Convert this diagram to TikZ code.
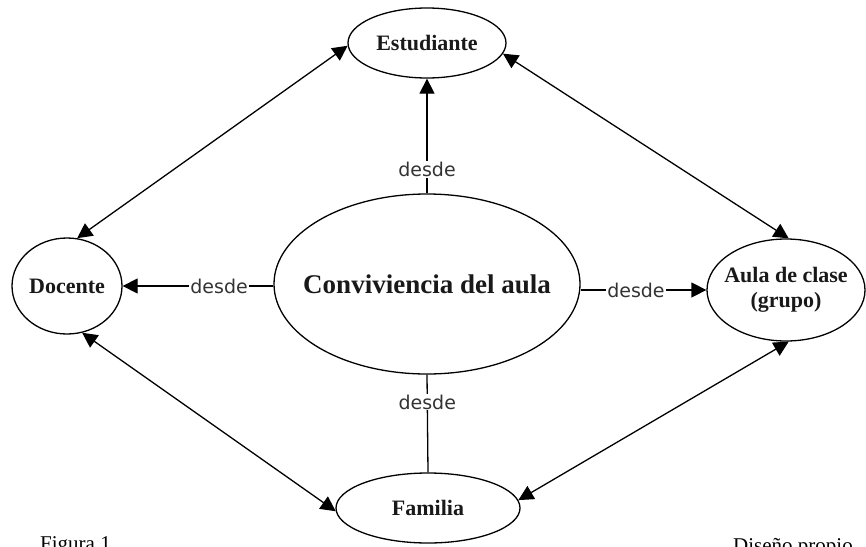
\documentclass[tikz,border=0pt]{standalone}
\usepackage{fontspec}
\setmainfont{Liberation Serif}
\newfontfamily\desdefont{DejaVu Sans}
\usetikzlibrary{shapes.geometric,arrows.meta}
\tikzset{
  bubble/.style={draw, ellipse, line width=1.3pt, inner sep=0pt},
  btext/.style={font=\bfseries\fontsize{22}{25}\selectfont, align=center, text=black!90},
  lbl/.style={fill=white, inner xsep=1.5pt, inner ysep=1pt, font=\desdefont\fontsize{19}{21}\selectfont, text=black!80},
  conn/.style={line width=1.3pt},
  tip/.style={-{Triangle[length=15pt,width=15pt]}},
  dtip/.style={{Triangle[length=15pt,width=15pt]}-{Triangle[length=15pt,width=15pt]}}
}
\begin{document}
\begin{tikzpicture}[x=1pt,y=-1pt]
\clip (0,0) rectangle (866,546);
\fill[white] (0,0) rectangle (866,546);
\node[bubble, minimum width=158pt, minimum height=70pt] (est) at (427,43) {};
\node[bubble, minimum width=110pt, minimum height=96pt] (doc) at (67,286) {};
\node[bubble, minimum width=306pt, minimum height=180pt] (conv) at (427,284) {};
\node[bubble, minimum width=158pt, minimum height=102pt] (aula) at (786,290) {};
\node[bubble, minimum width=184pt, minimum height=70pt] (fam) at (428,508) {};
\node[btext] (estT) at (est) {Estudiante};
\node[btext] (docT) at (doc) {Docente};
\node[btext, font=\bfseries\fontsize{27}{30}\selectfont] (convT) at (conv) {Conviviencia del aula};
\node[btext] (aulaT) at (aula) {Aula de clase\\(grupo)};
\node[btext] (famT) at (fam) {Familia};

\draw[conn, tip] (conv.north) -- node[lbl, pos=0.21] {desde} (est.south);
\draw[conn, tip] (conv.west |- doc.east) -- node[lbl, pos=0.36] {desde} (doc.east);
\draw[conn, tip] (conv.east |- aula.west) -- node[lbl, pos=0.44] {desde} (aula.west);
\draw[conn] (conv.south) -- node[lbl, pos=0.28] {desde} (fam.north);

\draw[conn, dtip] (est.182) -- (doc.78);
\draw[conn, dtip] (est.-8) -- (aula.87);
\draw[conn, dtip] (doc.-72) -- (fam.182);
\draw[conn, dtip] (aula.-87) -- (fam.5);

\node[anchor=base west, font=\fontsize{21}{23}\selectfont, inner sep=0pt] (fig) at (40,550) {Figura 1};
\node[anchor=base west, font=\fontsize{21}{23}\selectfont, inner sep=0pt] (dis) at (733,552) {Diseño propio};
\end{tikzpicture}
\end{document}
